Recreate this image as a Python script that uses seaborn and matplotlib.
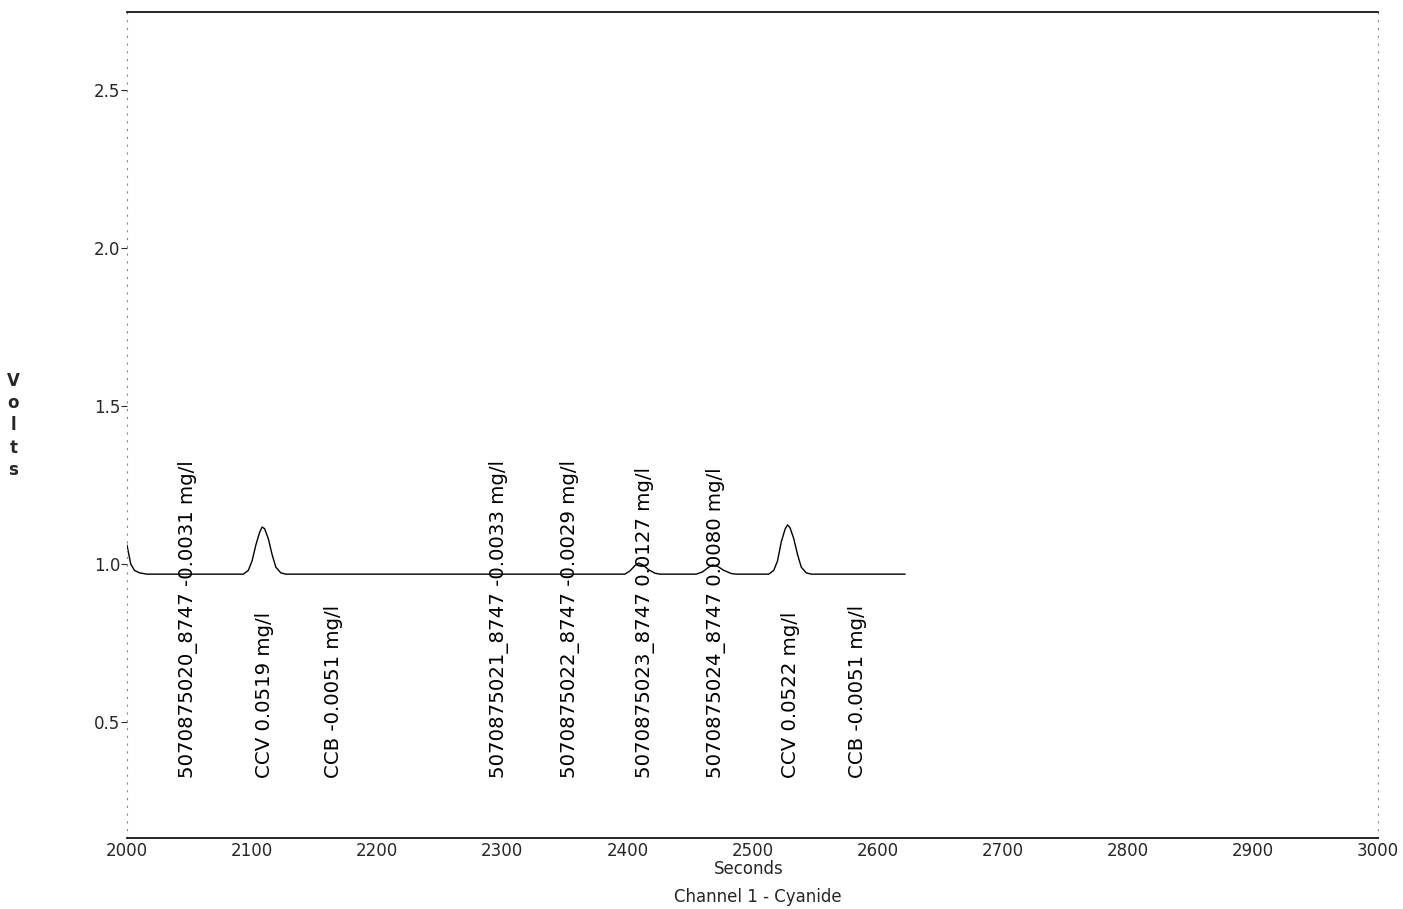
import matplotlib
matplotlib.use("Agg")
import matplotlib.pyplot as plt
import seaborn as sns
import pandas as pd

# Detector trace (seconds, volts)
seconds = [2000, 2001, 2003, 2006, 2010, 2016, 2060, 2093, 2097, 2100, 2103, 2106, 2108,
           2110, 2113, 2116, 2119, 2123, 2127, 2200, 2300, 2398, 2402, 2406, 2409,
           2412, 2417, 2422, 2426, 2455, 2460, 2465, 2468, 2472, 2477, 2483, 2487,
           2513, 2517, 2520, 2523, 2526, 2528, 2530, 2533, 2536, 2539, 2543, 2547,
           2600, 2622]
volts = [1.06, 1.04, 1.0, 0.98, 0.972, 0.968, 0.968, 0.968, 0.98, 1.01, 1.06, 1.10, 1.117,
         1.112, 1.08, 1.03, 0.99, 0.972, 0.968, 0.968, 0.968, 0.968, 0.978, 0.995, 1.003,
         0.998, 0.982, 0.971, 0.968, 0.968, 0.975, 0.99, 0.997, 0.993, 0.98, 0.97, 0.968,
         0.968, 0.98, 1.01, 1.07, 1.11, 1.124, 1.115, 1.08, 1.03, 0.99, 0.972, 0.968,
         0.968, 0.968]

# Sample results annotated along the run
label_times = [2049, 2110, 2165, 2297, 2354, 2414, 2471, 2530, 2584]
label_texts = [
    "5070875020_8747 -0.0031 mg/l",
    "CCV 0.0519 mg/l",
    "CCB -0.0051 mg/l",
    "5070875021_8747 -0.0033 mg/l",
    "5070875022_8747 -0.0029 mg/l",
    "5070875023_8747 0.0127 mg/l",
    "5070875024_8747 0.0080 mg/l",
    "CCV 0.0522 mg/l",
    "CCB -0.0051 mg/l",
]

x_ticks = [2000, 2100, 2200, 2300, 2400, 2500, 2600, 2700, 2800, 2900, 3000]
y_ticks = [0.5, 1.0, 1.5, 2.0, 2.5]

sns.set_style("white")
plt.rcParams["font.family"] = ["DejaVu Sans"]

fig = plt.figure(figsize=(14.03, 9.09), dpi=100)
ax = fig.add_axes([0.0905, 0.0781, 0.8917, 0.9087])

df = pd.DataFrame({"Seconds": seconds, "Volts": volts})
sns.lineplot(data=df, x="Seconds", y="Volts", ax=ax, color="black",
             linewidth=1.0, sort=False)

for t, s in zip(label_times, label_texts):
    ax.text(t, 0.323, s, rotation=90, ha="center", va="bottom",
            fontsize=14.2, color="black")

ax.set_xlim(2000, 3000)
ax.set_ylim(0.133, 2.747)
ax.set_xticks(x_ticks)
ax.set_yticks(y_ticks)
ax.set_xticklabels([str(v) for v in x_ticks])
ax.set_yticklabels([f"{v:.1f}" for v in y_ticks])
ax.tick_params(axis="x", length=0, pad=3, labelsize=12)
ax.tick_params(axis="y", length=4, width=0.8, pad=1, labelsize=12, left=True,
               direction="out")
ax.set_xlabel("")
ax.set_ylabel("")

for side in ("top", "bottom"):
    ax.spines[side].set_visible(True)
    ax.spines[side].set_color("black")
    ax.spines[side].set_linewidth(1.2)
for side in ("left", "right"):
    ax.spines[side].set_visible(True)
    ax.spines[side].set_color("#888888")
    ax.spines[side].set_linewidth(0.8)
    ax.spines[side].set_linestyle((0, (1, 6)))

fig.text(0.534, 0.0445, "Seconds", ha="center", va="center", fontsize=12)
fig.text(0.540, 0.013, "Channel 1 - Cyanide", ha="center", va="center", fontsize=12)
fig.text(0.0095, 0.532, "V\no\nl\nt\ns", ha="center", va="center", fontsize=12,
         fontweight="bold", linespacing=1.3)

fig.savefig("out.png", dpi=100)
